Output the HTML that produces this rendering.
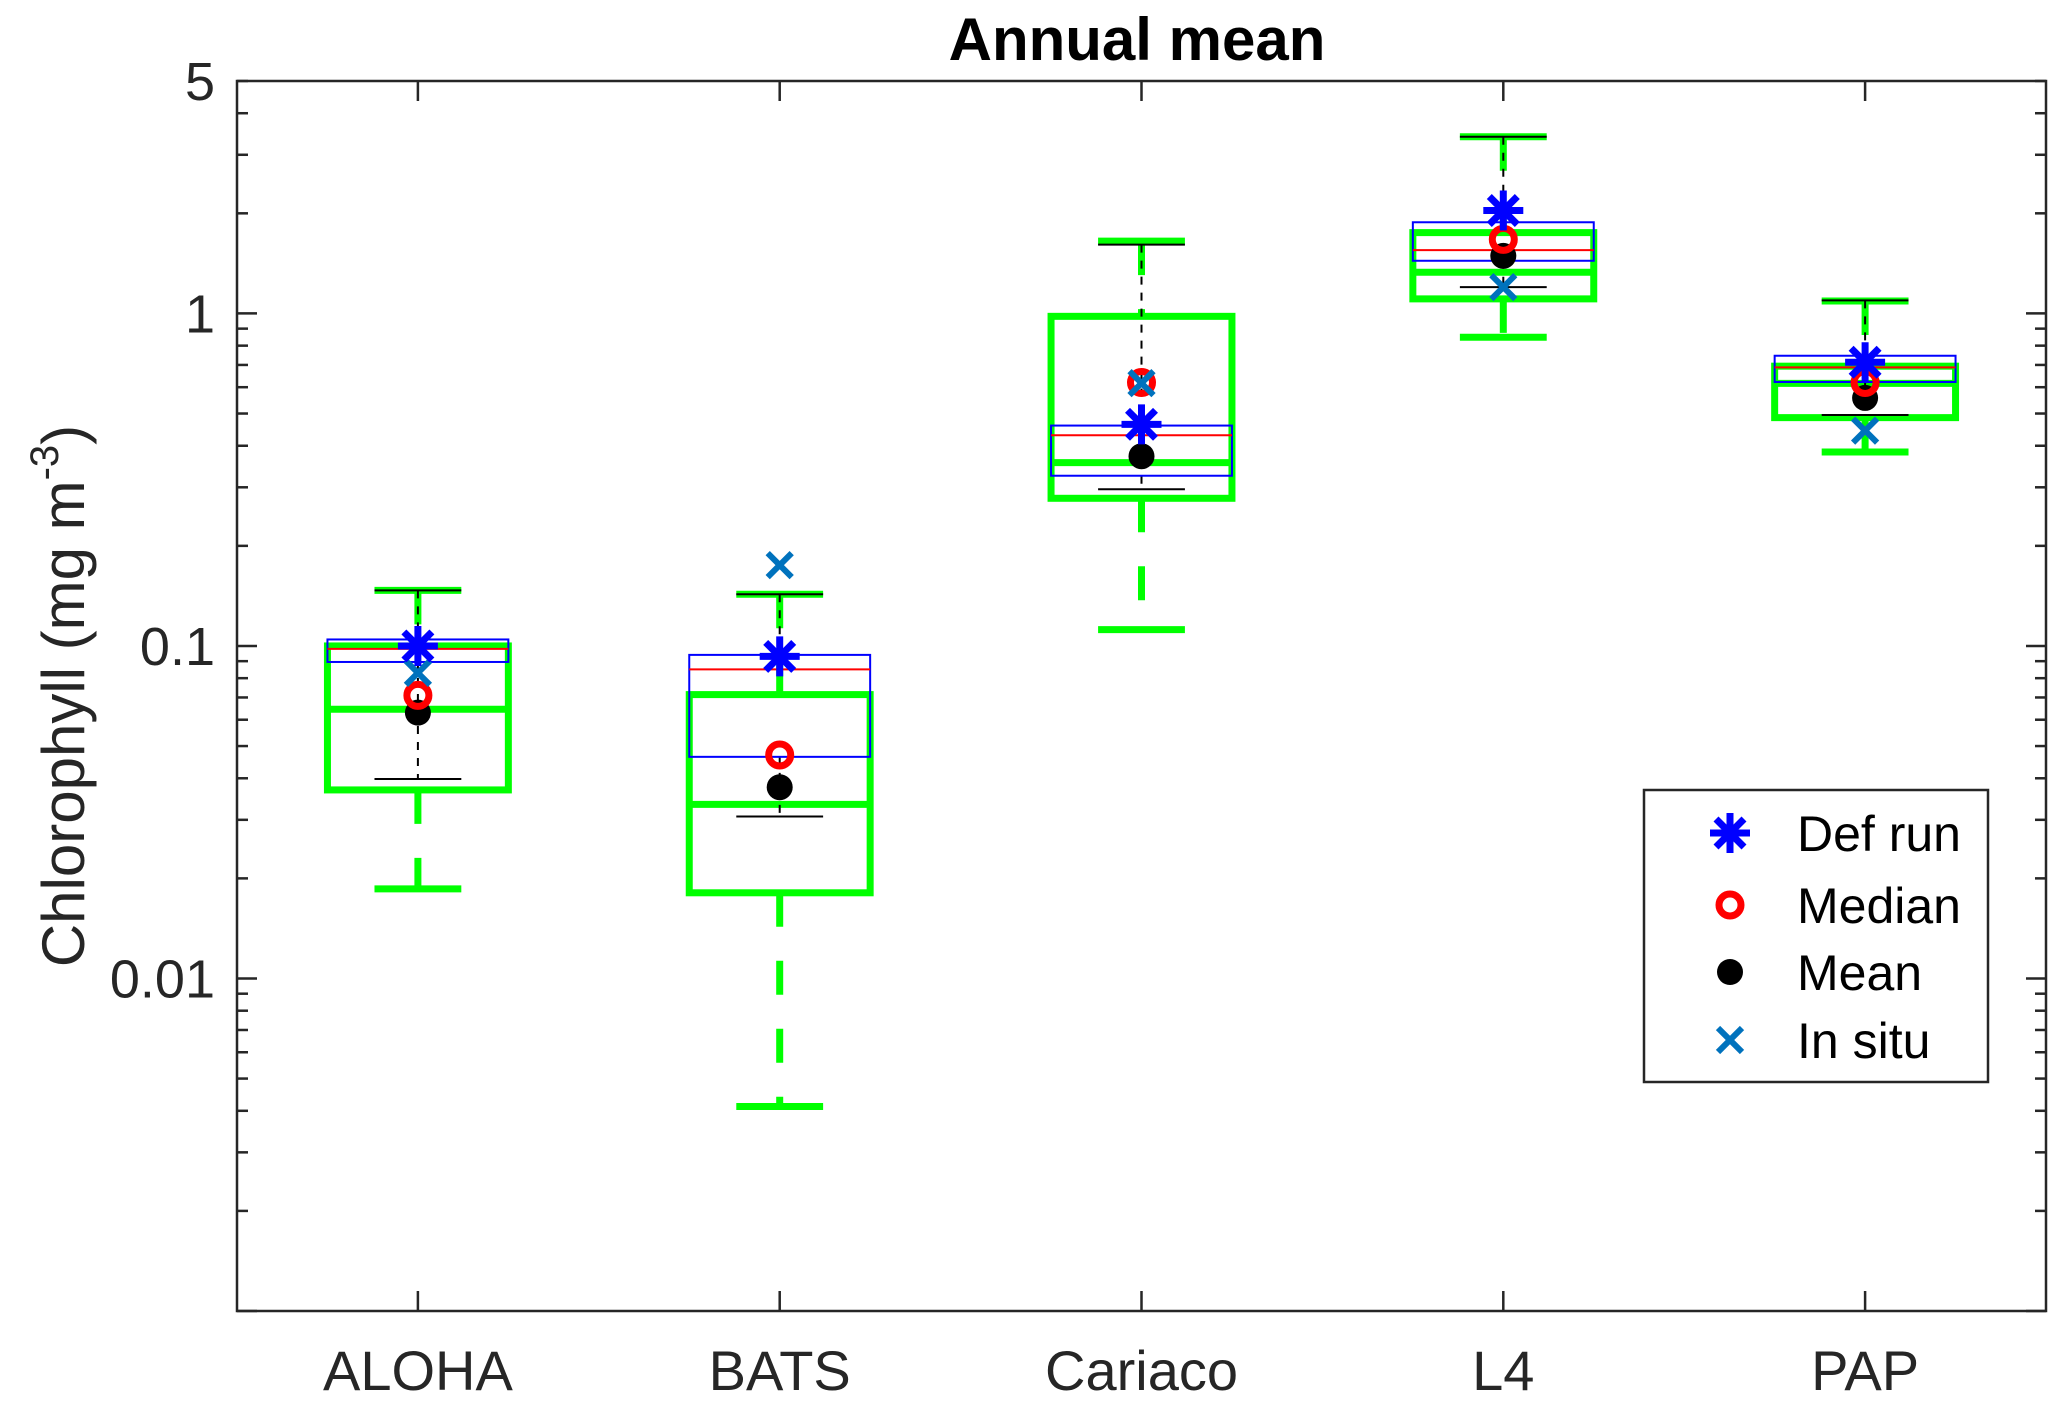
<!DOCTYPE html>
<html><head><meta charset="utf-8"><style>
html,body{margin:0;padding:0;background:#fff;}
svg{display:block;font-family:"Liberation Sans",Arial,sans-serif;}
</style></head><body>
<svg id="chart" width="2067" height="1408" viewBox="0 0 2067 1408"></svg>
<script>
const categories=["ALOHA","BATS","Cariaco","L4","PAP"];
// green boxplot (annual mean)
const gWhiskHi=[0.147,0.143,1.65,3.4,1.09];
const gQ3=[0.100,0.0714,0.98,1.75,0.694];
const gMed=[0.0645,0.0334,0.356,1.33,0.616];
const gQ1=[0.0369,0.0181,0.278,1.106,0.486];
const gWhiskLo=[0.0186,0.00412,0.112,0.848,0.383];
// blue/black boxplot
const bQ3=[0.1046,0.094,0.46,1.88,0.746];
const bMed=[0.098,0.085,0.43,1.55,0.688];
const bQ1=[0.0895,0.0464,0.325,1.44,0.622];
const bWhiskHi=[0.147,0.143,1.61,3.4,1.095];
const bWhiskLo=[0.0398,0.0307,0.296,1.2,0.495];
// markers
const defRun=[0.100,0.093,0.464,2.04,0.713];
const medianPts=[0.071,0.047,0.62,1.67,0.62];
const meanPts=[0.063,0.0376,0.372,1.49,0.557];
const inSitu=[0.083,0.175,0.617,1.2,0.444];
const yTickVals=[0.01,0.1,1,5];
const yTickLabels=["0.01","0.1","1","5"];

const L=237,R=2046,T=81,B=1311;
const yMin=0.001,yMax=5;
function X(i){return L+(i+1-0.5)/5*(R-L);}
function Y(v){return B-(Math.log10(v)-Math.log10(yMin))/(Math.log10(yMax)-Math.log10(yMin))*(B-T);}
const unit=(R-L)/5;
const svg=document.getElementById('chart');
const NS='http://www.w3.org/2000/svg';
function el(tag,attrs,parent){const e=document.createElementNS(NS,tag);for(const k in attrs)e.setAttribute(k,attrs[k]);(parent||svg).appendChild(e);return e;}

const ax=el('rect',{x:L,y:T,width:R-L,height:B-T,fill:'none',stroke:'#262626','stroke-width':2.5});



const tg=el('g',{stroke:'#262626','stroke-width':2.5});


for(let d=-3;d<=0;d++){for(let m=1;m<=9;m++){const v=m*Math.pow(10,d);if(v<yMin||v>yMax)continue;const len=m===1?20:11;const y=Y(v);
el('line',{x1:L,x2:L+len,y1:y,y2:y},tg);el('line',{x1:R,x2:R-len,y1:y,y2:y},tg);}}
for(let i=0;i<5;i++){const x=X(i);el('line',{x1:x,x2:x,y1:B,y2:B-20},tg);el('line',{x1:x,x2:x,y1:T,y2:T+20},tg);}

yTickVals.forEach((v,i)=>{const t=el('text',{x:215,y:Y(v)+19,'text-anchor':'end','font-size':54,fill:'#262626'});t.textContent=yTickLabels[i];

});
categories.forEach((c,i)=>{const t=el('text',{x:X(i),y:1390,'text-anchor':'middle','font-size':56,fill:'#262626'});t.textContent=c;

});

const title=el('text',{x:1137,y:60,'text-anchor':'middle','font-size':60,'font-weight':'bold',fill:'#000'});title.textContent='Annual mean';


const yl=el('text',{transform:'translate(84,696) rotate(-90)','text-anchor':'middle','font-size':60,fill:'#262626'});
yl.innerHTML='Chlorophyll (mg m<tspan dy="-26" font-size="40">-3</tspan><tspan dy="26">)</tspan>';



const hw=0.25*unit, cap=0.12*unit;
for(let i=0;i<5;i++){
  const x=X(i);
  const g=el('g',{});
  
  
  el('line',{x1:x,x2:x,y1:Y(gWhiskHi[i]),y2:Y(gQ3[i]),stroke:'#00ff00','stroke-width':7,'stroke-dasharray':'34 34'},g);
  el('line',{x1:x,x2:x,y1:Y(gQ1[i]),y2:Y(gWhiskLo[i]),stroke:'#00ff00','stroke-width':7,'stroke-dasharray':'34 34'},g);
  el('line',{x1:x-cap,x2:x+cap,y1:Y(gWhiskHi[i]),y2:Y(gWhiskHi[i]),stroke:'#00ff00','stroke-width':7},g);
  el('line',{x1:x-cap,x2:x+cap,y1:Y(gWhiskLo[i]),y2:Y(gWhiskLo[i]),stroke:'#00ff00','stroke-width':7},g);
  el('rect',{x:x-hw,y:Y(gQ3[i]),width:2*hw,height:Y(gQ1[i])-Y(gQ3[i]),fill:'none',stroke:'#00ff00','stroke-width':7},g);
  el('line',{x1:x-hw,x2:x+hw,y1:Y(gMed[i]),y2:Y(gMed[i]),stroke:'#00ff00','stroke-width':7},g);
  el('line',{x1:x,x2:x,y1:Y(bWhiskHi[i]),y2:Y(bQ3[i]),stroke:'#000','stroke-width':2,'stroke-dasharray':'8 8'},g);
  el('line',{x1:x,x2:x,y1:Y(bQ1[i]),y2:Y(bWhiskLo[i]),stroke:'#000','stroke-width':2,'stroke-dasharray':'8 8'},g);
  el('line',{x1:x-cap,x2:x+cap,y1:Y(bWhiskHi[i]),y2:Y(bWhiskHi[i]),stroke:'#000','stroke-width':2},g);
  el('line',{x1:x-cap,x2:x+cap,y1:Y(bWhiskLo[i]),y2:Y(bWhiskLo[i]),stroke:'#000','stroke-width':2},g);
  el('rect',{x:x-hw,y:Y(bQ3[i]),width:2*hw,height:Y(bQ1[i])-Y(bQ3[i]),fill:'none',stroke:'#0000ff','stroke-width':2},g);
  el('line',{x1:x-hw,x2:x+hw,y1:Y(bMed[i]),y2:Y(bMed[i]),stroke:'#ff0000','stroke-width':2},g);
}
function star(x,y,p,s){const g=el('g',{stroke:'#0000ff','stroke-width':7},p);
 el('line',{x1:x,x2:x,y1:y-s,y2:y+s},g);el('line',{x1:x-s,x2:x+s,y1:y,y2:y},g);
 el('line',{x1:x-s*0.7,x2:x+s*0.7,y1:y-s*0.7,y2:y+s*0.7},g);el('line',{x1:x-s*0.7,x2:x+s*0.7,y1:y+s*0.7,y2:y-s*0.7},g);return g;}
function cross(x,y,p,s){const g=el('g',{stroke:'#0072BD','stroke-width':6},p);
 el('line',{x1:x-s,x2:x+s,y1:y-s,y2:y+s},g);el('line',{x1:x-s,x2:x+s,y1:y+s,y2:y-s},g);return g;}
for(let i=0;i<5;i++){
  const x=X(i);
  const m1=el('circle',{cx:x,cy:Y(meanPts[i]),r:13,fill:'#000'});
  
  
  const m2=el('circle',{cx:x,cy:Y(medianPts[i]),r:11,fill:'none',stroke:'#ff0000','stroke-width':7});
  
  
  const m3=cross(x,Y(inSitu[i]),svg,12);
  
  
  const m4=star(x,Y(defRun[i]),svg,20);
  
  
}
const lg=el('g',{});


el('rect',{x:1644,y:790,width:344,height:292,fill:'#fff',stroke:'#262626','stroke-width':2.5},lg);
const ly=[833,905,972,1040],lx=1730;
star(lx,ly[0],lg,20);
el('circle',{cx:lx,cy:ly[1],r:11,fill:'none',stroke:'#ff0000','stroke-width':7},lg);
el('circle',{cx:lx,cy:ly[2],r:13,fill:'#000'},lg);
cross(lx,ly[3],lg,12);
["Def run","Median","Mean","In situ"].forEach((s,i)=>{const t=el('text',{x:1797,y:ly[i]+18,'font-size':50,fill:'#000'},lg);t.textContent=s;

});
</script>
</body></html>
